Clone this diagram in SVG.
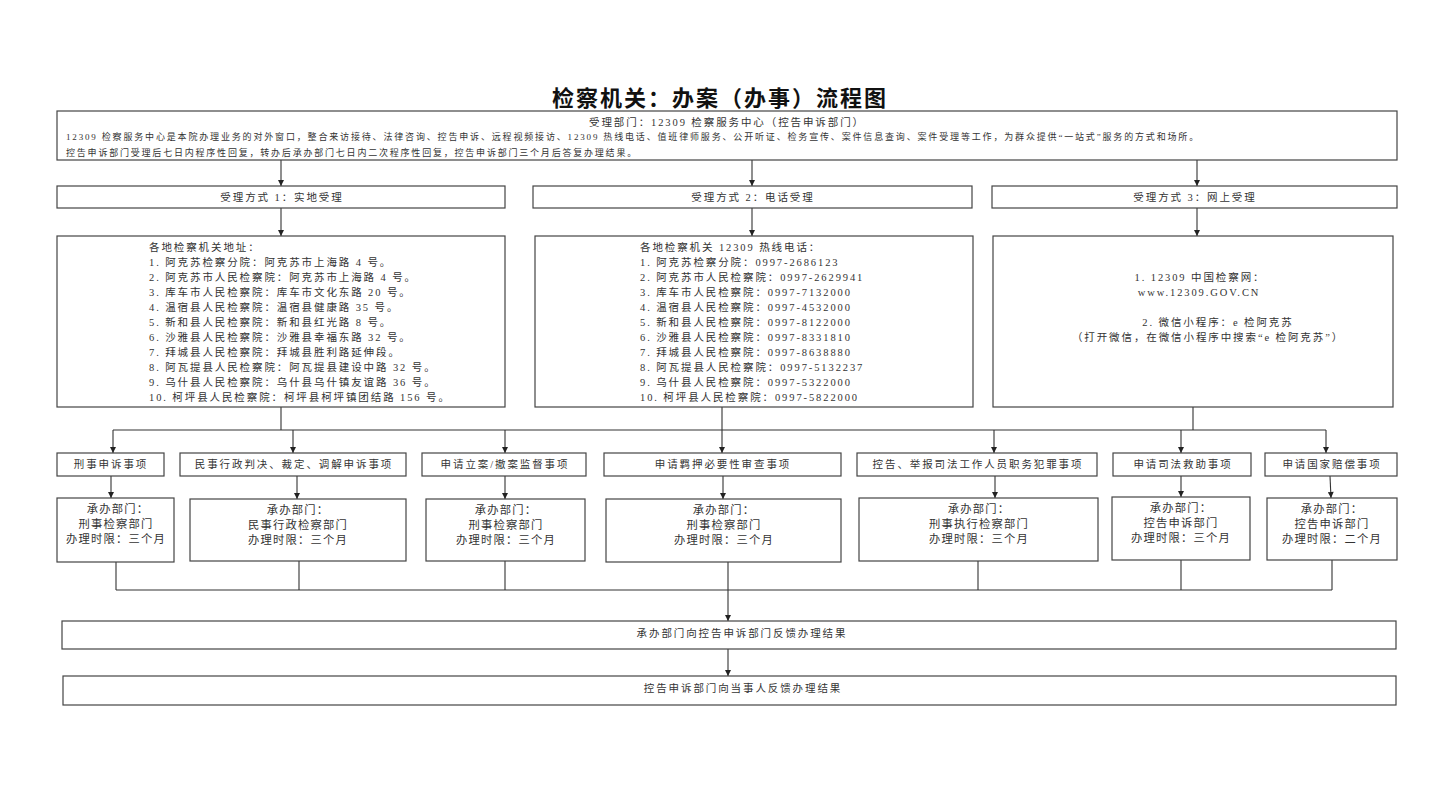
<svg xmlns="http://www.w3.org/2000/svg" width="1440" height="803" viewBox="0 0 1440 803">
<style>
.bg{fill:#fff}
.box{fill:#fff;stroke:#444;stroke-width:1.2}
.ln{fill:none;stroke:#333;stroke-width:1.1}
.t{font-family:"Liberation Serif","Noto Sans CJK SC",serif;font-size:10.5px;letter-spacing:1.9px;fill:#333;dominant-baseline:central}
.s{font-family:"Liberation Serif","Noto Sans CJK SC",serif;font-size:9px;letter-spacing:1.8px;fill:#333;dominant-baseline:central}
.b{font-family:"Liberation Serif","Noto Sans CJK SC",serif;font-size:11.3px;letter-spacing:1.2px;fill:#333;dominant-baseline:central}
.c{text-anchor:middle}
.title{font-family:"Liberation Serif","Noto Sans CJK SC",serif;font-size:22px;font-weight:bold;letter-spacing:2px;fill:#111;text-anchor:middle}
</style>
<defs>
<marker id="arr" viewBox="0 0 10 10" refX="10" refY="5" markerWidth="7" markerHeight="6" orient="auto" markerUnits="userSpaceOnUse"><path d="M0,0 L10,5 L0,10 z" fill="#222"/></marker>
</defs>
<rect class="bg" x="0" y="0" width="1440" height="803"/>
<text class="title" x="720" y="106">检察机关：办案（办事）流程图</text>

<g id="connectors">
<path class="ln" d="M281,160 V186" marker-end="url(#arr)"/>
<path class="ln" d="M752,160 V186" marker-end="url(#arr)"/>
<path class="ln" d="M1197,160 V186" marker-end="url(#arr)"/>
<path class="ln" d="M281,208 V236" marker-end="url(#arr)"/>
<path class="ln" d="M752,208 V236" marker-end="url(#arr)"/>
<path class="ln" d="M1197,208 V236" marker-end="url(#arr)"/>
<path class="ln" d="M281,407 V430 M1193,407 V430 M113,430 H1326"/>
<path class="ln" d="M722,407 V453" marker-end="url(#arr)"/>
<path class="ln" d="M113,430 V453" marker-end="url(#arr)"/>
<path class="ln" d="M293,430 V453" marker-end="url(#arr)"/>
<path class="ln" d="M505,430 V453" marker-end="url(#arr)"/>
<path class="ln" d="M994,430 V453" marker-end="url(#arr)"/>
<path class="ln" d="M1181,430 V453" marker-end="url(#arr)"/>
<path class="ln" d="M1326,430 V453" marker-end="url(#arr)"/>
<path class="ln" d="M111,476 V498" marker-end="url(#arr)"/>
<path class="ln" d="M297,476 V499" marker-end="url(#arr)"/>
<path class="ln" d="M505,476 V499" marker-end="url(#arr)"/>
<path class="ln" d="M723,476 V499" marker-end="url(#arr)"/>
<path class="ln" d="M995,476 V498" marker-end="url(#arr)"/>
<path class="ln" d="M1181,476 V497" marker-end="url(#arr)"/>
<path class="ln" d="M1330,476 L1331,498" marker-end="url(#arr)"/>
<path class="ln" d="M116,562 V590 M299,561 V590 M505,561 V590 M728,562 V590 M978,561 V590 M1181,560 V590 M1332,560 V590 M116,590 H1332"/>
<path class="ln" d="M728,590 V621" marker-end="url(#arr)"/>
<path class="ln" d="M728,649 V676" marker-end="url(#arr)"/>
</g>

<g id="n-top">
<rect class="box" x="57" y="111" width="1340" height="49"/>
<text class="t c" x="727" y="122">受理部门：12309 检察服务中心（控告申诉部门）</text>
<text class="s" x="66" y="137" textLength="1134" lengthAdjust="spacing">12309 检察服务中心是本院办理业务的对外窗口，整合来访接待、法律咨询、控告申诉、远程视频接访、12309 热线电话、值班律师服务、公开听证、检务宣传、案件信息查询、案件受理等工作，为群众提供“一站式”服务的方式和场所。</text>
<text class="s" x="66" y="153" textLength="572" lengthAdjust="spacing">控告申诉部门受理后七日内程序性回复，转办后承办部门七日内二次程序性回复，控告申诉部门三个月后答复办理结果。</text>
</g>

<g id="n-m1">
<rect class="box" x="57" y="186" width="448" height="22"/>
<text class="t c" x="282" y="197">受理方式 1：实地受理</text>
</g>
<g id="n-m2">
<rect class="box" x="533" y="186" width="439" height="22"/>
<text class="t c" x="753" y="197">受理方式 2：电话受理</text>
</g>
<g id="n-m3">
<rect class="box" x="992" y="186" width="405" height="22"/>
<text class="t c" x="1195" y="197">受理方式 3：网上受理</text>
</g>

<g id="n-d1">
<rect class="box" x="57" y="236" width="448" height="171"/>
<text class="t" x="149" y="247">各地检察机关地址：</text>
<text class="t" x="149" y="262">1. 阿克苏检察分院：阿克苏市上海路 4 号。</text>
<text class="t" x="149" y="277">2. 阿克苏市人民检察院：阿克苏市上海路 4 号。</text>
<text class="t" x="149" y="292">3. 库车市人民检察院：库车市文化东路 20 号。</text>
<text class="t" x="149" y="307">4. 温宿县人民检察院：温宿县健康路 35 号。</text>
<text class="t" x="149" y="322">5. 新和县人民检察院：新和县红光路 8 号。</text>
<text class="t" x="149" y="337">6. 沙雅县人民检察院：沙雅县幸福东路 32 号。</text>
<text class="t" x="149" y="352">7. 拜城县人民检察院：拜城县胜利路延伸段。</text>
<text class="t" x="149" y="367">8. 阿瓦提县人民检察院：阿瓦提县建设中路 32 号。</text>
<text class="t" x="149" y="382">9. 乌什县人民检察院：乌什县乌什镇友谊路 36 号。</text>
<text class="t" x="149" y="397">10. 柯坪县人民检察院：柯坪县柯坪镇团结路 156 号。</text>
</g>

<g id="n-d2">
<rect class="box" x="535" y="236" width="438" height="171"/>
<text class="t" x="640" y="247">各地检察机关 12309 热线电话：</text>
<text class="t" x="640" y="262">1. 阿克苏检察分院：0997-2686123</text>
<text class="t" x="640" y="277">2. 阿克苏市人民检察院：0997-2629941</text>
<text class="t" x="640" y="292">3. 库车市人民检察院：0997-7132000</text>
<text class="t" x="640" y="307">4. 温宿县人民检察院：0997-4532000</text>
<text class="t" x="640" y="322">5. 新和县人民检察院：0997-8122000</text>
<text class="t" x="640" y="337">6. 沙雅县人民检察院：0997-8331810</text>
<text class="t" x="640" y="352">7. 拜城县人民检察院：0997-8638880</text>
<text class="t" x="640" y="367">8. 阿瓦提县人民检察院：0997-5132237</text>
<text class="t" x="640" y="382">9. 乌什县人民检察院：0997-5322000</text>
<text class="t" x="640" y="397">10. 柯坪县人民检察院：0997-5822000</text>
</g>

<g id="n-d3">
<rect class="box" x="993" y="236" width="400" height="171"/>
<text class="t c" x="1200" y="277">1. 12309 中国检察网：</text>
<text class="t c" x="1199" y="292">www.12309.GOV.CN</text>
<text class="t c" x="1218" y="322">2. 微信小程序：e 检阿克苏</text>
<text class="t c" x="1208" y="337">（打开微信，在微信小程序中搜索“e 检阿克苏”）</text>
</g>

<g id="n-i1">
<rect class="box" x="57" y="453" width="107" height="23"/>
<text class="t c" x="111" y="464">刑事申诉事项</text>
</g>
<g id="n-i2">
<rect class="box" x="180" y="453" width="226" height="23"/>
<text class="t c" x="294" y="464">民事行政判决、裁定、调解申诉事项</text>
</g>
<g id="n-i3">
<rect class="box" x="422" y="453" width="164" height="23"/>
<text class="t c" x="505" y="464">申请立案/撤案监督事项</text>
</g>
<g id="n-i4">
<rect class="box" x="604" y="453" width="237" height="23"/>
<text class="t c" x="723" y="464">申请羁押必要性审查事项</text>
</g>
<g id="n-i5">
<rect class="box" x="857" y="453" width="240" height="23"/>
<text class="t c" x="978" y="464">控告、举报司法工作人员职务犯罪事项</text>
</g>
<g id="n-i6">
<rect class="box" x="1113" y="453" width="138" height="23"/>
<text class="t c" x="1183" y="464">申请司法救助事项</text>
</g>
<g id="n-i7">
<rect class="box" x="1265" y="453" width="132" height="23"/>
<text class="t c" x="1332" y="464">申请国家赔偿事项</text>
</g>

<g id="n-s1">
<rect class="box" x="57" y="498" width="117" height="64"/>
<text class="b c" x="118" y="509">承办部门：</text>
<text class="b c" x="116" y="524">刑事检察部门</text>
<text class="b c" x="116" y="539">办理时限：三个月</text>
</g>
<g id="n-s2">
<rect class="box" x="190" y="499" width="216" height="62"/>
<text class="b c" x="298" y="510">承办部门：</text>
<text class="b c" x="298" y="525">民事行政检察部门</text>
<text class="b c" x="298" y="540">办理时限：三个月</text>
</g>
<g id="n-s3">
<rect class="box" x="426" y="499" width="159" height="62"/>
<text class="b c" x="506" y="510">承办部门：</text>
<text class="b c" x="506" y="525">刑事检察部门</text>
<text class="b c" x="506" y="540">办理时限：三个月</text>
</g>
<g id="n-s4">
<rect class="box" x="606" y="499" width="235" height="63"/>
<text class="b c" x="724" y="510">承办部门：</text>
<text class="b c" x="724" y="525">刑事检察部门</text>
<text class="b c" x="724" y="540">办理时限：三个月</text>
</g>
<g id="n-s5">
<rect class="box" x="859" y="498" width="239" height="63"/>
<text class="b c" x="979" y="509">承办部门：</text>
<text class="b c" x="979" y="524">刑事执行检察部门</text>
<text class="b c" x="979" y="539">办理时限：三个月</text>
</g>
<g id="n-s6">
<rect class="box" x="1112" y="497" width="138" height="63"/>
<text class="b c" x="1181" y="508">承办部门：</text>
<text class="b c" x="1181" y="523">控告申诉部门</text>
<text class="b c" x="1181" y="538">办理时限：三个月</text>
</g>
<g id="n-s7">
<rect class="box" x="1267" y="498" width="130" height="62"/>
<text class="b c" x="1332" y="509">承办部门：</text>
<text class="b c" x="1332" y="524">控告申诉部门</text>
<text class="b c" x="1332" y="539">办理时限：二个月</text>
</g>

<g id="n-f1">
<rect class="box" x="62" y="621" width="1334" height="28"/>
<text class="t c" x="742" y="633">承办部门向控告申诉部门反馈办理结果</text>
</g>
<g id="n-f2">
<rect class="box" x="63" y="676" width="1333" height="29"/>
<text class="t c" x="743" y="688">控告申诉部门向当事人反馈办理结果</text>
</g>
</svg>
